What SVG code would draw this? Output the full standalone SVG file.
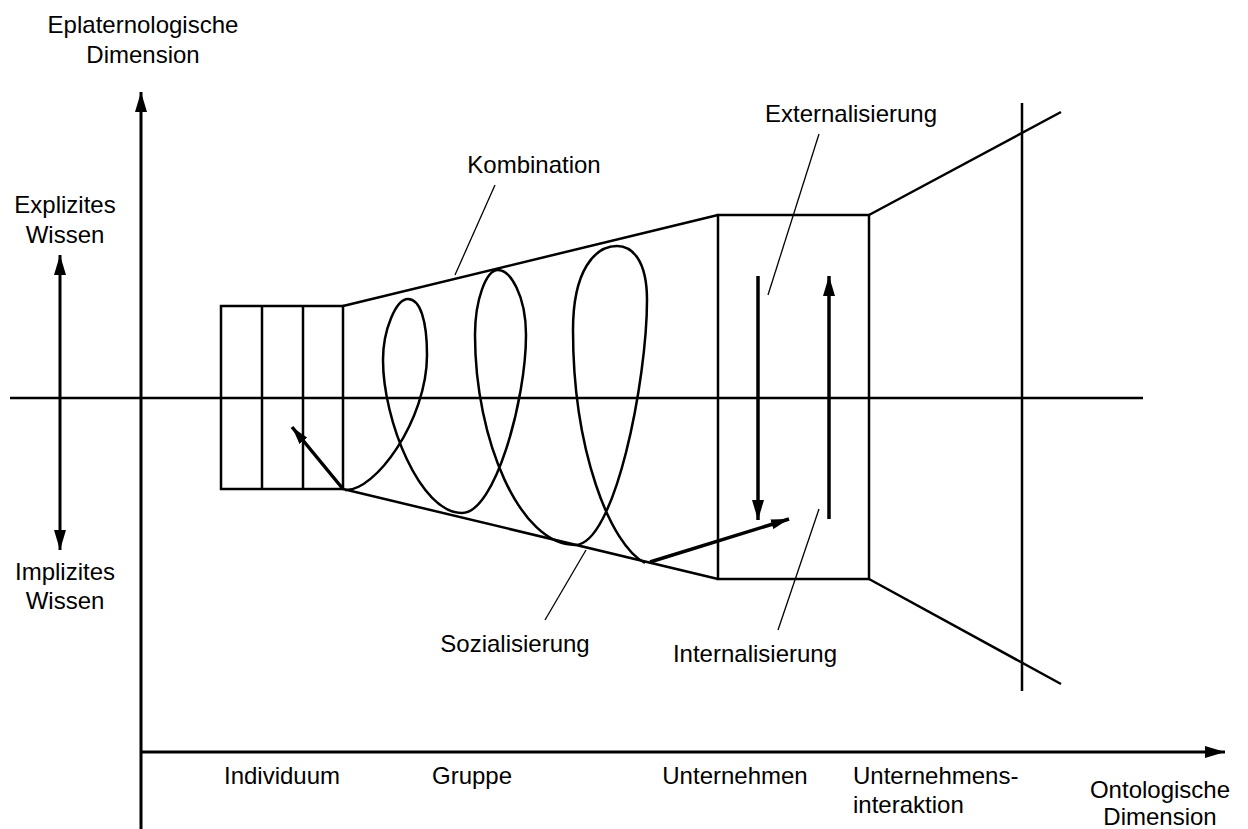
<svg xmlns="http://www.w3.org/2000/svg" width="1248" height="829" viewBox="0 0 1248 829">
<style>
.t{font-family:"Liberation Sans",Arial,sans-serif;font-size:24px;fill:#000}
.m{text-anchor:middle}
.ln{stroke:#000;stroke-width:2.5;fill:none}
.ax{stroke:#000;stroke-width:3;fill:none}
.ar{stroke:#000;stroke-width:3.5;fill:none}
.ld{stroke:#000;stroke-width:1.3;fill:none}
</style>
<defs>
<marker id="ah" viewBox="0 0 20 12" refX="20" refY="6" markerWidth="20" markerHeight="12" markerUnits="userSpaceOnUse" orient="auto-start-reverse"><path d="M0,0 L20,6 L0,12 z" fill="#000"/></marker>
<marker id="ahs" viewBox="0 0 18 10" refX="18" refY="5" markerWidth="18" markerHeight="10" markerUnits="userSpaceOnUse" orient="auto"><path d="M0,0 L18,5 L0,10 z" fill="#000"/></marker>
</defs>
<rect width="1248" height="829" fill="#fff"/>
<g id="axes">
<line class="ax" x1="141" y1="829" x2="141" y2="92" marker-end="url(#ah)"/>
<line class="ax" x1="141" y1="752" x2="1225" y2="752" marker-end="url(#ah)"/>
<line class="ln" x1="10" y1="398" x2="1143" y2="398"/>
<line class="ax" x1="60" y1="255" x2="60" y2="550" marker-start="url(#ah)" marker-end="url(#ah)"/>
</g>
<g id="individuum-box">
<rect class="ln" x="221" y="306" width="122" height="183"/>
<line class="ln" x1="262" y1="306" x2="262" y2="489"/>
<line class="ln" x1="303" y1="306" x2="303" y2="489"/>
</g>
<g id="funnel">
<line class="ln" x1="343" y1="306" x2="718" y2="215"/>
<line class="ln" x1="343" y1="489" x2="718" y2="579"/>
</g>
<g id="unternehmen-box">
<rect class="ln" x="718" y="215" width="151" height="364"/>
</g>
<g id="interaktion">
<line class="ln" x1="869" y1="215" x2="1061" y2="112"/>
<line class="ln" x1="869" y1="579" x2="1061" y2="684"/>
<line class="ln" x1="1022" y1="103" x2="1022" y2="691"/>
</g>
<g id="spiral">
<path class="ln" d="M345,490 C375,492 427,420 427,355 C427,320 420,299 408,299 C396,299 383,330 383,360 C383,420 420,513 462,513 C495,513 526,400 526,335 C526,295 510,270 498,270 C486,270 475,300 475,335 C475,440 520,545 575,545 C615,545 647,380 647,300 C647,260 632,246 617,246 C595,246 573,270 573,330 C573,450 610,545 645,563"/>
</g>
<g id="connectors">
<line class="ar" x1="343" y1="489" x2="292" y2="427" marker-end="url(#ahs)"/>
<line class="ar" x1="650" y1="562" x2="789" y2="519" marker-end="url(#ahs)"/>
<line class="ar" x1="758" y1="276" x2="758" y2="520" marker-end="url(#ah)"/>
<line class="ar" x1="829" y1="519" x2="829" y2="276" marker-end="url(#ah)"/>
<line class="ld" x1="495" y1="185" x2="455" y2="275"/>
<line class="ld" x1="819" y1="134" x2="768" y2="295"/>
<line class="ld" x1="819" y1="509" x2="778" y2="630"/>
<line class="ld" x1="586" y1="550" x2="545" y2="620"/>
</g>
<g id="labels">
<text class="t m" x="143" y="33">Eplaternologische</text>
<text class="t m" x="143" y="63">Dimension</text>
<text class="t m" x="65" y="213">Explizites</text>
<text class="t m" x="65" y="243">Wissen</text>
<text class="t m" x="65" y="580">Implizites</text>
<text class="t m" x="65" y="609">Wissen</text>
<text class="t m" x="534" y="173">Kombination</text>
<text class="t m" x="851" y="122">Externalisierung</text>
<text class="t m" x="515" y="652">Sozialisierung</text>
<text class="t m" x="755" y="662">Internalisierung</text>
<text class="t m" x="282" y="784">Individuum</text>
<text class="t m" x="472" y="784">Gruppe</text>
<text class="t m" x="735" y="784">Unternehmen</text>
<text class="t" x="853" y="784">Unternehmens-</text>
<text class="t" x="853" y="813">interaktion</text>
<text class="t m" x="1160" y="798">Ontologische</text>
<text class="t m" x="1160" y="825">Dimension</text>
</g>
</svg>
